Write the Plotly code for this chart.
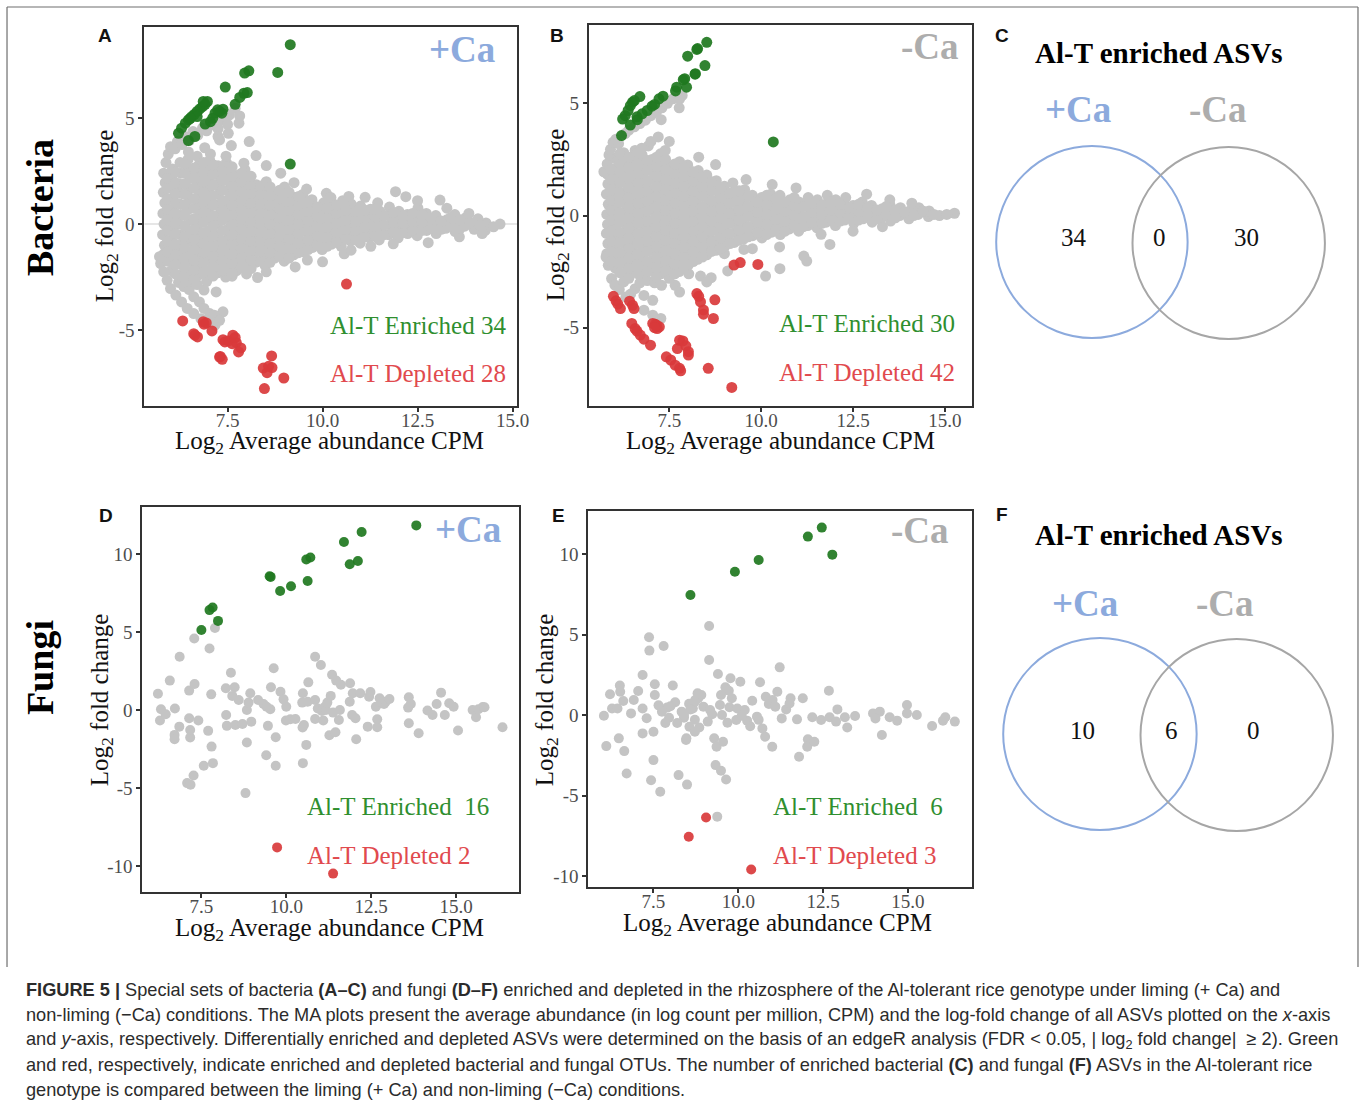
import plotly.graph_objects as go

W, H = 1360, 1107
FIG_W = 1375  # page is captured 15 px wider than the window and scaled back to 1360

# ------------------------------------------------------------------ data
# Panel A  (bacteria, +Ca)
A_GREEN = [(9.15,8.46),(8.82,7.15),(8.06,7.23),(7.95,7.12),(7.44,6.46),(8.02,6.2),(7.93,6.17),(7.82,5.97),
           (7.70,5.65),(7.38,5.42),(7.29,5.31),(7.17,5.23),(7.35,5.23),(7.05,4.83),(6.91,4.72),(6.97,5.78),
           (6.91,5.65),(6.84,5.54),(6.77,5.43),(6.70,5.31),(6.63,5.18),(6.56,5.07),(6.47,4.91),(6.39,4.76),
           (6.29,4.52),(6.21,4.28),(6.47,3.94),(6.64,4.13),(9.15,2.83),(7.11,4.99),(7.24,5.39),(6.86,5.78),
           (6.70,5.07),(6.52,4.99)]
A_RED = [(10.63,-2.83),(6.32,-4.57),(6.61,-5.17),(6.71,-5.32),(6.86,-4.61),(6.94,-4.66),(7.09,-5.04),
         (7.38,-5.45),(7.52,-5.51),(7.64,-5.24),(7.73,-5.59),(7.85,-5.84),(7.79,-6.03),(7.29,-6.27),
         (7.36,-6.38),(8.66,-6.22),(8.44,-6.79),(8.67,-6.77),(8.54,-7.01),(8.98,-7.26),(8.47,-7.76),
         (7.62,-5.64),(6.88,-4.72),(6.64,-5.24),(7.43,-5.56),(7.70,-5.35),(7.31,-6.24),(8.58,-6.71)]
A_GRAY = [
    (5.80,-1.45),(5.84,-1.0),(5.79,-0.5),(5.83,0.0),(5.80,0.5),(5.85,1.0),(5.81,1.5),(5.86,1.95),
    (6.02,-2.2),(6.0,-1.7),(6.04,-1.25),(6.01,-0.75),(6.03,-0.25),(5.99,0.25),(6.04,0.7),(6.02,1.2),(6.0,1.7),(6.03,2.2),(6.05,2.6),
    (6.24,-2.4),(6.27,-1.9),(6.23,-1.45),(6.26,-1.0),(6.25,-0.5),(6.22,0.0),(6.27,0.45),(6.24,0.95),(6.26,1.45),(6.23,1.9),(6.27,2.4),(6.25,2.9),
    (6.49,-2.25),(6.52,-1.75),(6.48,-1.3),(6.51,-0.8),(6.5,-0.3),(6.53,0.2),(6.48,0.7),(6.51,1.2),(6.5,1.65),(6.52,2.15),(6.49,2.6),(6.46,3.05),
    (6.74,-2.4),(6.77,-1.95),(6.73,-1.5),(6.76,-1.0),(6.75,-0.55),(6.72,-0.05),(6.77,0.45),(6.74,0.9),(6.76,1.4),(6.73,1.85),(6.77,2.35),(6.75,2.8),
    (6.99,-2.2),(7.02,-1.7),(6.98,-1.25),(7.01,-0.75),(7.0,-0.3),(7.03,0.2),(6.98,0.65),(7.01,1.15),(7.0,1.6),(7.02,2.1),(6.99,2.6),(7.03,3.0),
    (7.24,-2.3),(7.27,-1.85),(7.23,-1.4),(7.26,-0.95),(7.25,-0.5),(7.22,0.0),(7.27,0.45),(7.24,0.9),(7.26,1.4),(7.23,1.85),(7.27,2.3),(7.25,2.75),
    (7.49,-2.05),(7.52,-1.6),(7.48,-1.15),(7.51,-0.7),(7.5,-0.25),(7.53,0.25),(7.48,0.7),(7.51,1.15),(7.5,1.6),(7.52,2.05),(7.49,2.5),(7.47,2.9),
    (7.74,-2.2),(7.77,-1.75),(7.73,-1.3),(7.76,-0.85),(7.75,-0.4),(7.72,0.05),(7.77,0.5),(7.74,0.95),(7.76,1.4),(7.73,1.85),(7.77,2.3),
    (7.99,-1.95),(8.02,-1.5),(7.98,-1.05),(8.01,-0.6),(8.0,-0.15),(8.03,0.3),(7.98,0.75),(8.01,1.2),(8.0,1.65),(8.02,2.05),(7.96,2.55),
    (8.24,-1.8),(8.27,-1.3),(8.23,-0.85),(8.26,-0.4),(8.25,0.05),(8.22,0.5),(8.27,0.95),(8.24,1.4),(8.26,1.85),
    (8.49,-1.95),(8.52,-1.5),(8.48,-1.05),(8.51,-0.6),(8.5,-0.15),(8.53,0.3),(8.48,0.75),(8.51,1.2),(8.5,1.6),(8.52,2.0),
    (8.74,-1.6),(8.77,-1.15),(8.73,-0.7),(8.76,-0.25),(8.75,0.2),(8.72,0.65),(8.77,1.1),(8.74,1.5),
    (8.99,-1.75),(9.02,-1.3),(8.98,-0.85),(9.01,-0.4),(9.0,0.05),(9.03,0.5),(8.98,0.95),(9.01,1.4),(9.0,1.75),
    (9.24,-1.45),(9.27,-1.0),(9.23,-0.55),(9.26,-0.1),(9.25,0.35),(9.22,0.8),(9.27,1.25),
    (9.49,-1.3),(9.52,-0.85),(9.48,-0.35),(9.51,0.1),(9.5,0.55),(9.53,1.0),(9.48,1.4),
    (9.74,-1.1),(9.77,-0.6),(9.73,-0.15),(9.76,0.3),(9.75,0.75),(9.72,1.15),
    (9.99,-1.2),(10.02,-0.8),(9.98,-0.35),(10.01,0.1),(10.0,0.55),(10.03,1.0),
    (10.24,-0.95),(10.27,-0.5),(10.23,-0.05),(10.26,0.4),(10.25,0.85),
    (10.49,-1.05),(10.52,-0.6),(10.48,-0.15),(10.51,0.3),(10.5,0.75),(10.53,1.1),
    (10.74,-0.8),(10.77,-0.35),(10.73,0.1),(10.76,0.55),(10.75,0.95),
    (10.99,-0.9),(11.02,-0.45),(10.98,0.0),(11.01,0.45),(11.0,0.85),
    (11.24,-0.65),(11.27,-0.2),(11.23,0.25),(11.26,0.7),
    (11.49,-0.75),(11.52,-0.3),(11.48,0.15),(11.51,0.6),
    (11.74,-0.5),(11.77,-0.05),(11.73,0.4),(11.76,0.8),
    (11.99,-0.65),(12.02,-0.2),(11.98,0.25),(12.01,0.6),
    (12.24,-0.45),(12.27,0.0),(12.23,0.45),
    (12.49,-0.55),(12.52,-0.1),(12.48,0.35),(12.51,0.75),
    (12.74,-0.3),(12.77,0.15),(12.73,0.5),
    (12.99,-0.45),(13.02,0.0),(12.98,0.4),
    (13.24,-0.2),(13.27,0.2),
    (13.49,-0.35),(13.52,0.05),(13.48,0.45),
    (13.74,-0.1),(13.77,0.3),
    (13.99,-0.25),(14.02,0.1),
    (14.3,0.05),(14.28,-0.3),(14.5,-0.13),(14.67,0.0),
    # upper arc and outliers
    (5.82,2.4),(5.88,2.9),(5.94,3.3),(6.0,3.65),(6.12,3.55),(6.18,3.89),(6.3,3.75),(6.38,4.13),(6.5,3.95),
    (6.59,4.36),(6.72,4.2),(6.84,4.52),(6.95,4.4),(7.11,4.68),(7.25,4.5),(7.35,4.91),(7.55,5.15),(7.7,5.46),
    (7.5,4.7),(7.82,5.1),(8.52,2.76),(8.25,3.23),(8.07,3.89),(7.8,4.76),(7.25,4.13),(7.29,3.97),(7.52,4.28),
    (7.93,2.87),(7.46,3.2),(7.05,3.3),(6.47,3.4),(6.7,3.2),(6.9,3.6),(7.6,3.7),(8.9,2.4),(9.25,1.95),
    (9.58,1.65),(10.1,1.45),(10.22,1.25),(10.69,1.3),(11.12,1.26),(11.45,1.0),(11.92,1.53),(12.19,1.29),
    (12.5,1.1),(13.09,1.13),(13.27,0.75),(13.85,0.5),(14.09,0.25),
    # lower arc and outliers
    (5.71,-1.54),(5.74,-1.86),(5.82,-2.25),(5.91,-2.65),(6.0,-3.04),(6.14,-3.35),(6.29,-3.67),(6.44,-3.98),
    (6.61,-4.22),(6.8,-4.46),(7.0,-4.61),(7.17,-4.77),(7.38,-4.14),(6.21,-2.75),(6.35,-2.95),(6.49,-3.09),
    (6.61,-3.43),(6.76,-3.67),(6.88,-3.98),(7.03,-4.22),(7.15,-4.3),(7.29,-4.54),(6.59,-2.7),(6.7,-2.85),
    (6.88,-3.11),(6.4,-2.7),(6.95,-2.7),(7.2,-3.2),(7.45,-2.5),(7.62,-2.46),(8.29,-2.52),(8.52,-2.25),
    (9.28,-2.02),(10.0,-1.78),(10.57,-1.4),(10.75,-1.23),(11.27,-1.05),(12.78,-0.88),(11.86,-0.93),
    (9.6,-1.7),(8.0,-2.35),(13.6,-0.6),(14.2,-0.45)]
# further gray ASVs of panel A filling the dense core, listed as (x, [y values])
A_GRAY_CORE = [
    (5.92, [-1.75,-1.3,-0.8,-0.3,0.2,0.7,1.2,1.7,2.15]),
    (6.13, [-2.35,-1.9,-1.45,-0.95,-0.45,0.05,0.5,1.0,1.45,1.95,2.45]),
    (6.37, [-2.5,-2.05,-1.6,-1.1,-0.6,-0.1,0.4,0.9,1.4,1.9,2.4,2.85]),
    (6.62, [-2.6,-2.15,-1.7,-1.2,-0.7,-0.25,0.25,0.75,1.2,1.7,2.2,2.65]),
    (6.87, [-2.3,-1.8,-1.35,-0.9,-0.4,0.1,0.55,1.05,1.5,2.0,2.45,2.9]),
    (7.12, [-2.45,-2.0,-1.5,-1.05,-0.55,-0.1,0.4,0.9,1.35,1.85,2.35,2.8]),
    (7.37, [-2.2,-1.7,-1.25,-0.8,-0.3,0.2,0.65,1.1,1.6,2.05,2.5]),
    (7.62, [-2.3,-1.85,-1.4,-0.95,-0.5,-0.05,0.45,0.9,1.35,1.8,2.25,2.7]),
    (7.87, [-2.05,-1.6,-1.15,-0.7,-0.25,0.2,0.65,1.1,1.55,2.0,2.4]),
    (8.12, [-2.1,-1.7,-1.25,-0.8,-0.35,0.1,0.55,1.0,1.45,1.9,2.25]),
    (8.37, [-1.75,-1.3,-0.85,-0.4,0.05,0.5,0.95,1.4,1.8]),
    (8.62, [-1.8,-1.35,-0.9,-0.45,0.0,0.45,0.9,1.35,1.75]),
    (8.87, [-1.5,-1.05,-0.6,-0.15,0.3,0.75,1.2,1.6]),
    (9.12, [-1.6,-1.15,-0.7,-0.25,0.2,0.65,1.1,1.5]),
    (9.37, [-1.35,-0.9,-0.45,0.0,0.45,0.9,1.3]),
    (9.62, [-1.2,-0.75,-0.3,0.15,0.6,1.05]),
    (9.87, [-1.0,-0.55,-0.1,0.35,0.8]),
    (10.12, [-1.05,-0.6,-0.15,0.3,0.75]),
    (10.37, [-0.85,-0.4,0.05,0.5,0.9]),
    (10.62, [-0.7,-0.25,0.2,0.65]),
    (10.87, [-0.75,-0.3,0.15,0.6]),
    (11.12, [-0.6,-0.15,0.3,0.65]),
    (11.37, [-0.55,-0.1,0.35,0.7]),
    (11.62, [-0.5,-0.05,0.4]),
    (11.87, [-0.35,0.1,0.55]),
    (12.12, [-0.4,0.05,0.4]),
    (12.37, [-0.3,0.15,0.5]),
    (12.62, [-0.3,0.1,0.45]),
    (12.87, [-0.2,0.25]),
    (13.12, [-0.25,0.15]),
    (13.37, [-0.1,0.3]),
    (13.62, [-0.2,0.2]),
    (13.87, [0.05]),
    (14.15, [-0.05]),
]

# Panel B  (bacteria, -Ca)
B_GREEN = [(8.52,7.72),(8.27,7.44),(8.0,7.1),(8.47,6.68),(8.21,6.32),(7.92,6.1),(7.97,5.72),(7.7,5.72),
           (7.67,5.55),(7.88,6.05),(7.33,5.32),(7.22,5.2),(7.03,4.87),(6.9,4.68),(6.76,4.53),(6.7,5.3),
           (6.5,5.05),(6.44,4.9),(6.38,4.68),(6.3,4.45),(6.23,4.3),(6.44,4.03),(6.63,4.27),(6.2,3.56),
           (10.33,3.28),(8.2,6.3),(6.55,5.12),(6.62,4.4),(7.1,4.95),(8.25,7.4)]
B_RED = [(5.98,-3.6),(6.05,-3.8),(6.1,-3.95),(6.17,-4.15),(6.42,-3.82),(6.5,-4.0),(6.54,-4.15),(6.48,-4.81),
         (6.57,-5.04),(6.71,-5.33),(6.81,-5.51),(6.99,-5.78),(7.05,-4.81),(7.12,-4.85),(7.15,-4.89),(7.23,-4.96),
         (7.17,-5.04),(7.1,-5.0),(7.42,-6.3),(7.54,-6.44),(7.66,-6.67),(7.78,-6.81),(7.72,-5.93),(7.78,-5.56),
         (7.87,-5.59),(7.95,-5.81),(8.02,-6.07),(8.02,-6.22),(7.81,-6.92),(8.25,-3.48),(8.35,-3.85),(8.74,-3.76),
         (8.43,-4.21),(8.43,-4.4),(8.7,-4.59),(8.56,-6.81),(9.2,-7.66),(9.26,-2.21),(9.43,-2.1),(9.91,-2.18),
         (8.3,-3.6),(6.62,-5.15)]
B_GRAY = [
    (5.80,-1.7),(5.83,-1.25),(5.79,-0.8),(5.82,-0.4),(5.8,0.05),(5.84,0.5),(5.79,0.95),(5.83,1.4),(5.81,1.85),
    (6.03,-2.35),(6.05,-1.9),(6.01,-1.45),(6.04,-1.0),(6.02,-0.55),(6.06,-0.1),(6.01,0.3),(6.04,0.75),(6.02,1.2),(6.05,1.65),(6.01,2.1),(6.04,2.55),
    (6.27,-2.6),(6.29,-2.15),(6.25,-1.7),(6.28,-1.25),(6.26,-0.8),(6.3,-0.35),(6.25,0.1),(6.28,0.55),(6.27,1.0),(6.29,1.45),(6.25,1.9),(6.28,2.35),(6.26,2.8),
    (6.52,-2.5),(6.54,-2.05),(6.5,-1.6),(6.53,-1.15),(6.51,-0.7),(6.55,-0.25),(6.5,0.2),(6.53,0.65),(6.52,1.1),(6.54,1.55),(6.5,2.0),(6.53,2.45),
    (6.77,-2.7),(6.79,-2.25),(6.75,-1.8),(6.78,-1.35),(6.76,-0.9),(6.8,-0.45),(6.75,0.0),(6.78,0.45),(6.77,0.9),(6.79,1.35),(6.75,1.8),(6.78,2.25),(6.76,2.7),
    (7.02,-2.45),(7.04,-2.0),(7.0,-1.55),(7.03,-1.1),(7.01,-0.65),(7.05,-0.2),(7.0,0.25),(7.03,0.7),(7.02,1.15),(7.04,1.6),(7.0,2.05),(7.03,2.5),
    (7.27,-2.6),(7.29,-2.15),(7.25,-1.7),(7.28,-1.25),(7.26,-0.8),(7.3,-0.35),(7.25,0.1),(7.28,0.55),(7.27,1.0),(7.29,1.45),(7.25,1.9),(7.28,2.35),(7.26,2.75),
    (7.52,-2.3),(7.54,-1.85),(7.5,-1.4),(7.53,-0.95),(7.51,-0.5),(7.55,-0.05),(7.5,0.4),(7.53,0.85),(7.52,1.3),(7.54,1.75),(7.5,2.2),
    (7.77,-2.5),(7.79,-2.05),(7.75,-1.6),(7.78,-1.15),(7.76,-0.7),(7.8,-0.25),(7.75,0.2),(7.78,0.65),(7.77,1.1),(7.79,1.55),(7.75,2.0),(7.78,2.4),
    (8.02,-2.2),(8.04,-1.75),(8.0,-1.3),(8.03,-0.85),(8.01,-0.4),(8.05,0.05),(8.0,0.5),(8.03,0.95),(8.02,1.4),(8.04,1.85),(8.0,2.25),
    (8.27,-1.95),(8.29,-1.5),(8.25,-1.05),(8.28,-0.6),(8.26,-0.15),(8.3,0.3),(8.25,0.75),(8.28,1.2),(8.27,1.65),(8.29,2.0),
    (8.52,-1.75),(8.54,-1.3),(8.5,-0.85),(8.53,-0.4),(8.51,0.05),(8.55,0.5),(8.5,0.95),(8.53,1.4),(8.52,1.8),
    (8.77,-1.55),(8.79,-1.1),(8.75,-0.65),(8.78,-0.2),(8.76,0.25),(8.8,0.7),(8.75,1.15),(8.78,1.55),
    (9.02,-1.35),(9.04,-0.9),(9.0,-0.45),(9.03,0.0),(9.01,0.45),(9.05,0.9),(9.0,1.3),
    (9.27,-1.2),(9.29,-0.75),(9.25,-0.3),(9.28,0.15),(9.26,0.6),(9.3,1.05),
    (9.52,-1.05),(9.54,-0.6),(9.5,-0.15),(9.53,0.3),(9.51,0.75),(9.55,1.15),
    (9.77,-0.9),(9.79,-0.45),(9.75,0.0),(9.78,0.45),(9.76,0.9),
    (10.02,-1.0),(10.04,-0.55),(10.0,-0.1),(10.03,0.35),(10.01,0.8),
    (10.27,-0.75),(10.29,-0.3),(10.25,0.15),(10.28,0.6),(10.26,0.95),
    (10.52,-0.85),(10.54,-0.4),(10.5,0.05),(10.53,0.5),(10.51,0.9),
    (10.77,-0.6),(10.79,-0.15),(10.75,0.3),(10.78,0.7),
    (11.02,-0.7),(11.04,-0.25),(11.0,0.2),(11.03,0.6),
    (11.27,-0.45),(11.29,0.0),(11.25,0.45),(11.28,0.8),
    (11.52,-0.55),(11.54,-0.1),(11.5,0.35),(11.53,0.7),
    (11.77,-0.3),(11.79,0.1),(11.75,0.5),
    (12.02,-0.45),(12.04,-0.05),(12.0,0.35),(12.03,0.7),
    (12.27,-0.2),(12.29,0.2),(12.25,0.55),
    (12.52,-0.35),(12.54,0.05),(12.5,0.45),
    (12.77,-0.15),(12.79,0.25),(12.75,0.6),
    (13.02,-0.3),(13.04,0.1),(13.0,0.45),
    (13.27,-0.1),(13.29,0.3),
    (13.52,-0.25),(13.54,0.15),(13.5,0.5),
    (13.77,0.0),(13.79,0.35),
    (14.02,-0.15),(14.04,0.2),
    (14.27,0.05),(14.29,0.35),
    (14.55,-0.05),(14.57,0.2),(14.85,0.0),(15.26,0.1),
    # upper arc and outliers
    (5.72,1.95),(5.81,2.3),(5.86,2.7),(5.9,2.95),(5.97,3.26),(6.05,3.4),(6.12,3.2),(6.3,3.65),(6.4,3.8),
    (6.55,3.95),(6.7,4.1),(6.85,4.25),(7.0,4.45),(7.15,4.6),(7.3,4.8),(7.45,5.0),(7.6,5.2),(7.78,5.19),
    (7.85,5.35),(7.77,4.8),(7.28,4.27),(6.57,2.9),(6.75,3.0),(6.93,3.1),(7.39,2.9),(7.5,3.3),(7.2,3.5),
    (7.0,3.3),(8.76,2.27),(8.3,2.6),(9.23,1.45),(9.59,1.6),(10.3,1.38),(10.95,1.23),(12.87,0.95),
    (11.8,0.9),(13.5,0.7),(14.1,0.55),(12.3,0.8),
    # lower arc and outliers
    (5.78,-1.85),(5.84,-2.22),(5.93,-2.81),(6.02,-3.1),(6.14,-3.3),(6.32,-3.63),(6.26,-2.96),(6.57,-3.26),
    (6.81,-3.56),(7.05,-3.78),(7.29,-3.11),(7.66,-3.11),(7.78,-3.41),(6.81,-4.22),(7.05,-4.44),(7.27,-4.59),
    (6.9,-2.9),(7.1,-3.0),(7.5,-2.8),(6.7,-3.0),(6.45,-3.5),(11.63,-0.84),(11.87,-1.29),(11.24,-2.03),
    (11.16,-1.81),(10.51,-2.37),(10.12,-2.7),(9.76,-1.48),(9.53,-1.51),(9.0,-1.7),(9.09,-2.47),(8.64,-2.77),
    (8.35,-2.7),(8.52,-2.96),(8.03,-2.6),(10.5,-1.4),(12.5,-0.7),(13.3,-0.5)]
B_GRAY_CORE = [
    (5.92, [-2.05,-1.6,-1.15,-0.7,-0.2,0.25,0.7,1.15,1.6,2.05]),
    (6.15, [-2.55,-2.1,-1.65,-1.2,-0.75,-0.3,0.15,0.6,1.05,1.5,1.95,2.4,2.75]),
    (6.40, [-2.8,-2.35,-1.9,-1.45,-1.0,-0.55,-0.1,0.35,0.8,1.25,1.7,2.15,2.6]),
    (6.65, [-2.6,-2.15,-1.7,-1.25,-0.8,-0.35,0.1,0.55,1.0,1.45,1.9,2.35,2.8]),
    (6.90, [-2.5,-2.05,-1.6,-1.15,-0.7,-0.25,0.2,0.65,1.1,1.55,2.0,2.45]),
    (7.15, [-2.75,-2.3,-1.85,-1.4,-0.95,-0.5,-0.05,0.4,0.85,1.3,1.75,2.2,2.6]),
    (7.40, [-2.45,-2.0,-1.55,-1.1,-0.65,-0.2,0.25,0.7,1.15,1.6,2.05,2.5]),
    (7.65, [-2.6,-2.15,-1.7,-1.25,-0.8,-0.35,0.1,0.55,1.0,1.45,1.9,2.3]),
    (7.90, [-2.3,-1.85,-1.4,-0.95,-0.5,-0.05,0.4,0.85,1.3,1.75,2.15]),
    (8.15, [-2.05,-1.6,-1.15,-0.7,-0.25,0.2,0.65,1.1,1.55,1.95]),
    (8.40, [-1.85,-1.4,-0.95,-0.5,-0.05,0.4,0.85,1.3,1.7]),
    (8.65, [-1.6,-1.15,-0.7,-0.25,0.2,0.65,1.1,1.5]),
    (8.90, [-1.45,-1.0,-0.55,-0.1,0.35,0.8,1.2]),
    (9.15, [-1.25,-0.8,-0.35,0.1,0.55,1.0]),
    (9.40, [-1.1,-0.65,-0.2,0.25,0.7,1.1]),
    (9.65, [-0.95,-0.5,-0.05,0.4,0.85]),
    (9.90, [-0.75,-0.3,0.15,0.6]),
    (10.15, [-0.85,-0.4,0.05,0.5,0.9]),
    (10.40, [-0.6,-0.15,0.3,0.75]),
    (10.65, [-0.7,-0.25,0.2,0.6]),
    (10.90, [-0.45,0.0,0.45,0.8]),
    (11.15, [-0.5,-0.05,0.4]),
    (11.40, [-0.3,0.15,0.55]),
    (11.65, [-0.35,0.05,0.45]),
    (11.90, [-0.15,0.25,0.6]),
    (12.15, [-0.25,0.15,0.5]),
    (12.40, [-0.05,0.35]),
    (12.65, [-0.2,0.2,0.5]),
    (12.90, [0.0,0.35]),
    (13.15, [-0.15,0.25]),
    (13.40, [0.05,0.4]),
    (13.65, [-0.1,0.25]),
    (13.90, [0.15]),
    (14.15, [0.0]),
    (14.40, [0.2]),
    (14.70, [0.05]),
    (15.05, [0.05]),
]

# Panel D  (fungi, +Ca)
D_GREEN = [(13.83,11.83),(12.22,11.41),(11.7,10.77),(12.11,9.55),(11.87,9.34),(10.71,9.77),(10.59,9.64),
           (10.63,8.27),(10.14,7.93),(9.82,7.63),(9.54,8.53),(9.51,8.57),(7.83,6.57),(7.74,6.4),(7.99,5.71),(7.5,5.12)]
D_RED = [(9.73,-8.81),(11.38,-10.49)]
D_GRAY = [
    (6.22,1.04),(6.31,0.04),(6.28,-0.68),(6.45,-0.28),(6.57,1.88),(6.72,0.09),(6.71,-1.6),(6.71,-1.88),
    (6.85,-1.07),(6.86,3.41),(7.14,1.24),(7.17,-1.77),(7.14,-0.53),(7.17,-1.28),(7.29,4.58),(7.3,1.66),
    (7.41,-0.68),(7.08,-4.69),(7.18,-4.8),(7.27,-4.2),(7.57,-3.58),(7.7,-1.34),(7.74,3.94),(7.79,1.0),
    (7.84,-3.41),(7.8,-2.35),(7.9,5.25),(8.22,1.39),(8.23,-0.32),(8.25,-1.02),(8.37,2.39),(8.41,0.9),
    (8.48,1.45),(8.5,-0.96),(8.6,0.64),(8.71,-0.9),(8.8,-5.33),(8.84,-2.09),(8.84,0.0),(8.89,0.47),
    (8.94,1.07),(8.97,-0.75),(9.17,0.64),(9.33,0.38),(9.42,0.21),(9.46,-1.02),(9.41,-2.9),(9.53,0.04),
    (9.55,1.45),(9.63,2.67),(9.69,-1.75),(9.69,-3.58),(9.83,1.17),(9.92,0.68),(9.99,-0.68),(10.0,0.21),
    (10.12,-0.6),(10.27,-0.58),(10.47,0.47),(10.48,-1.13),(10.49,1.07),(10.52,-0.96),(10.59,-2.24),
    (10.49,-3.41),(10.63,0.53),(10.65,1.77),(10.85,3.41),(10.85,0.64),(10.85,-0.58),(10.93,0.09),
    (11.02,2.88),(11.05,-0.06),(11.09,-0.68),(11.14,0.21),(11.17,0.0),(11.21,0.47),(11.27,-1.62),
    (11.31,0.9),(11.35,2.26),(11.38,-0.17),(11.45,-1.43),(11.47,1.88),(11.55,-0.64),(11.61,1.62),
    (11.58,0.0),(11.87,0.53),(11.88,1.71),(11.94,-0.32),(11.96,1.07),(12.04,-0.53),(12.06,-1.88),
    (12.18,1.07),(12.4,-1.07),(12.44,0.85),(12.48,1.15),(12.64,0.21),(12.68,-1.11),(12.68,-0.6),
    (12.75,0.75),(12.81,0.43),(12.88,0.38),(12.93,0.53),(13.04,0.7),(13.61,0.81),(13.59,0.15),
    (13.61,-0.85),(13.67,0.38),(13.9,-1.49),(14.16,-0.04),(14.31,-0.32),(14.43,0.38),(14.56,1.11),
    (14.67,-0.32),(14.8,0.43),(14.93,0.21),(15.06,-1.32),(15.49,0.0),(15.59,-0.47),(15.66,0.04),
    (15.79,0.19),(15.84,0.17),(16.37,-1.11)]

# Panel E  (fungi, -Ca)
E_GREEN = [(8.59,7.45),(9.9,8.9),(10.6,9.63),(12.05,11.08),(12.46,11.64),(12.77,9.96)]
E_RED = [(8.54,-7.56),(9.05,-6.36),(10.38,-9.59)]
E_GRAY = [
    (6.04,-0.04),(6.11,-1.93),(6.22,1.29),(6.28,0.41),(6.44,0.41),(6.48,-1.45),(6.51,1.83),(6.52,1.45),
    (6.61,0.87),(6.64,-2.24),(6.71,-3.63),(6.84,0.1),(6.92,0.93),(7.05,1.49),(7.18,2.49),(7.18,0.41),
    (7.18,-1.14),(7.37,4.83),(7.38,4.0),(7.5,-1.04),(7.5,-2.8),(7.54,1.91),(7.54,1.24),(7.43,-4.05),
    (7.7,-4.77),(7.8,4.29),(7.9,0.46),(7.96,-0.17),(8.07,1.83),(8.14,0.79),(8.24,-3.73),(8.33,0.21),
    (8.4,-0.17),(8.47,-1.45),(8.49,-4.32),(8.56,-0.73),(8.66,0.41),(8.73,0.93),(8.8,1.35),(7.65,0.6),
    (7.75,0.2),(8.0,0.55),(8.2,-0.5),(7.85,-0.5),(8.55,0.7),(7.3,-0.2),
    (9.14,5.53),(9.14,3.42),(11.22,2.96),(9.4,2.55),(9.77,2.28),(10.06,2.07),(10.64,2.03),(9.62,1.72),
    (9.72,1.51),(9.49,1.24),(9.81,1.04),(11.15,1.45),(11.54,1.04),(11.9,1.04),(12.67,1.51),(10.81,1.14),
    (11.01,0.93),(10.41,0.89),(8.91,1.24),(8.82,1.04),(8.72,0.83),(8.59,0.35),(8.97,0.52),(9.17,0.31),
    (9.46,0.62),(9.74,0.48),(9.97,0.41),(10.19,0.31),(10.9,0.68),(11.09,0.52),(11.41,0.35),(11.51,0.72),
    (12.92,0.35),(13.97,0.1),(14.17,0.21),(14.97,0.62),(15.26,0.0),(14.46,-0.14),(14.68,-0.35),
    (10.26,-0.35),(9.94,-0.31),(9.68,-0.48),(9.1,-0.41),(8.85,-0.77),(8.72,-1.04),(8.46,-1.55),
    (9.29,-1.45),(9.36,-1.97),(9.55,-1.66),(10.71,-0.83),(10.79,-1.35),(11.0,-1.97),(12.05,-1.51),
    (12.03,-1.97),(12.24,-1.66),(11.79,-2.59),(9.33,-3.11),(9.49,-3.46),(9.64,-4.0),(14.23,-1.24),
    (13.21,-0.77),(11.73,-0.27),(11.28,-0.21),(12.18,-0.14),(12.44,-0.31),(12.69,-0.14),(13.14,-0.14),
    (13.44,-0.06),(15.71,-0.68),(16.03,-0.35),(16.38,-0.41),(16.1,-0.14),(14.97,0.1),(14.04,-0.21),
    (12.88,-0.41),(9.38,-6.31),(8.4,0.0),(8.72,-0.3),(9.23,0.05),(9.52,0.0),(10.1,-0.05),(10.55,-0.1),
    (10.35,-0.7),(10.6,-0.3)]

X_TICKS = [7.5, 10.0, 12.5, 15.0]
X_TICKTEXT = ["7.5", "10.0", "12.5", "15.0"]
Y_TICKS_BAC = [-5, 0, 5]
Y_TICKS_FUN = [-10, -5, 0, 5, 10]
ENRICHED = {"A": "Al-T Enriched 34", "B": "Al-T Enriched 30", "D": "Al-T Enriched\u00a0 16", "E": "Al-T Enriched\u00a0 6"}
DEPLETED = {"A": "Al-T Depleted 28", "B": "Al-T Depleted 42", "D": "Al-T Depleted 2", "E": "Al-T Depleted 3"}
VENN_C = ["34", "0", "30"]
VENN_F = ["10", "6", "0"]

# ------------------------------------------------------------------ style
SERIF = "Liberation Serif, Times New Roman, serif"
SANS = "Liberation Sans, Arial, sans-serif"
C_GRAY_PT = "#C4C4C4"
C_GREEN_PT = "#1F781F"
C_RED_PT = "#D9393B"
C_GREEN_TX = "#2F8F2F"
C_RED_TX = "#E14A4E"
C_BLUE = "#8CAADD"
C_GRAYTX = "#ADADAD"
AXIS_C = "#333333"


def pxx(x):
    return x / W


def pyy(y):
    return 1 - y / H


def expand(cols):
    return [(x, y) for x, ys in cols for y in ys]


panels = [
    dict(n="", gray=A_GRAY + expand(A_GRAY_CORE), green=A_GREEN, red=A_RED, xd=(144, 516), yd=(27.3, 406),
         xr=(5.31, 15.12), yr=(-8.58, 9.28), yt=Y_TICKS_BAC, ms=11),
    dict(n="2", gray=B_GRAY + expand(B_GRAY_CORE), green=B_GREEN, red=B_RED, xd=(587.5, 970), yd=(25, 406),
         xr=(5.31, 15.74), yr=(-8.49, 8.49), yt=Y_TICKS_BAC, ms=11),
    dict(n="3", gray=D_GRAY, green=D_GREEN, red=D_RED, xd=(142, 518), yd=(507, 892),
         xr=(5.76, 16.86), yr=(-11.67, 13.01), yt=Y_TICKS_FUN, ms=10),
    dict(n="4", gray=E_GRAY, green=E_GREEN, red=E_RED, xd=(587, 970), yd=(511, 887),
         xr=(5.58, 16.89), yr=(-10.68, 12.67), yt=Y_TICKS_FUN, ms=10),
]

fig = go.Figure()
layout_axes = {}
for p in panels:
    n = p["n"]
    for pts, col, op in ((p["gray"], C_GRAY_PT, 1.0), (p["green"], C_GREEN_PT, 0.92), (p["red"], C_RED_PT, 0.92)):
        fig.add_trace(go.Scatter(
            x=[a for a, b in pts], y=[b for a, b in pts], mode="markers",
            marker=dict(color=col, size=p["ms"], opacity=op, line=dict(width=0)),
            xaxis="x" + n, yaxis="y" + n, showlegend=False, hoverinfo="skip"))
    common = dict(showline=True, mirror=True, linecolor=AXIS_C, linewidth=2, ticks="outside",
                  ticklen=4, tickwidth=1.5, tickcolor=AXIS_C, showgrid=False, zeroline=False,
                  tickfont=dict(family=SERIF, size=19, color="#4D4D4D"))
    layout_axes["xaxis" + n] = dict(domain=[pxx(p["xd"][0]), pxx(p["xd"][1])], range=list(p["xr"]),
                                    anchor="y" + n, tickvals=X_TICKS, ticktext=X_TICKTEXT,
                                    ticklabelstandoff=-8, **common)
    layout_axes["yaxis" + n] = dict(domain=[pyy(p["yd"][1]), pyy(p["yd"][0])], range=list(p["yr"]),
                                    anchor="x" + n, tickvals=p["yt"], ticktext=[str(v) for v in p["yt"]], **common)

ann = []


def text(x, y, s, size, color="#000000", family=SERIF, xanchor="center", angle=0):
    ann.append(dict(x=pxx(x), y=pyy(y), xref="paper", yref="paper", text=s, showarrow=False,
                    xanchor=xanchor, yanchor="middle", textangle=angle,
                    font=dict(family=family, size=size, color=color)))


# panel letters
for s, x, y in (("A", 105, 36), ("B", 556, 36), ("C", 1000, 36), ("D", 106, 515), ("E", 557, 515), ("F", 1000, 514)):
    text(x, y, "<b>%s</b>" % s, 19, "#111111", SANS)

# row labels
text(40, 208, "<b>Bacteria</b>", 38, "#000000", SERIF, angle=-90)
text(40, 668, "<b>Fungi</b>", 38, "#000000", SERIF, angle=-90)

# axis titles
YT = "Log<sub>2</sub> fold change"
XT = "Log<sub>2</sub> Average abundance CPM"
for x, y in ((107, 216), (556, 215), (101, 700), (545, 700)):
    text(x, y, YT, 25, "#111111", angle=-90)
for x, y in ((329, 442), (779, 442), (329, 929), (776, 924)):
    text(x, y, XT, 25, "#111111")

# in-panel labels
text(496, 50, "<b>+Ca</b>", 37, C_BLUE, xanchor="right")
text(959, 47, "<b>-Ca</b>", 37, C_GRAYTX, xanchor="right")
text(502, 529, "<b>+Ca</b>", 37, C_BLUE, xanchor="right")
text(949, 530, "<b>-Ca</b>", 37, C_GRAYTX, xanchor="right")
for key, x0, ye, yd in (("A", 327, 325, 373), ("B", 775, 323, 372), ("D", 304, 806, 855), ("E", 769, 806, 855)):
    text(x0, ye, ENRICHED[key], 25, C_GREEN_TX, xanchor="left")
    text(x0, yd, DEPLETED[key], 25, C_RED_TX, xanchor="left")

# Venn diagrams
shapes = []
for cy, nums, (bx0, by0, bx1, by1), (gx0, gy0, gx1, gy1), lx, ly, numx in (
        (0, VENN_C, (994, 146, 1185, 338), (1130, 147, 1322, 339), (1076, 1215), 110, (1072, 1157, 1244)),
        (1, VENN_F, (1001, 638, 1194, 830), (1138, 639, 1330, 831), (1083, 1222), 603, (1080, 1169, 1251))):
    tyy = 53 if cy == 0 else 535
    text(1156, tyy, "<b>Al-T enriched ASVs</b>", 29, "#000000")
    text(lx[0], ly, "<b>+Ca</b>", 37, C_BLUE)
    text(lx[1], ly, "<b>-Ca</b>", 37, C_GRAYTX)
    shapes.append(dict(type="circle", xref="paper", yref="paper", x0=pxx(bx0), x1=pxx(bx1),
                       y0=pyy(by1), y1=pyy(by0), line=dict(color=C_BLUE, width=2)))
    shapes.append(dict(type="circle", xref="paper", yref="paper", x0=pxx(gx0), x1=pxx(gx1),
                       y0=pyy(gy1), y1=pyy(gy0), line=dict(color="#A6A6A6", width=2)))
    ny = (by0 + by1) / 2 - 4
    for s, x in zip(nums, numx):
        text(x, ny, s, 25, "#111111")

# zero reference line in panel A
shapes.append(dict(type="line", xref="x", yref="y", x0=5.31, x1=15.12, y0=0, y1=0,
                   line=dict(color="#E6E6E6", width=2), layer="below"))

# outer frame (top, left, right)
for x0, y0, x1, y1 in ((7, 7, 1355, 7), (7, 7, 7, 967), (1355, 7, 1355, 967)):
    shapes.append(dict(type="line", xref="paper", yref="paper", x0=pxx(x0), y0=pyy(y0), x1=pxx(x1), y1=pyy(y1),
                       line=dict(color="#6E6E6E", width=1.2)))

# caption
CAPTION = [
    "<b>FIGURE 5 |</b> Special sets of bacteria <b>(A\u2013C)</b> and fungi <b>(D\u2013F)</b> enriched and depleted in the rhizosphere of the Al-tolerant rice genotype under liming (+ Ca) and",
    "non-liming (\u2212Ca) conditions. The MA plots present the average abundance (in log count per million, CPM) and the log-fold change of all ASVs plotted on the <i>x</i>-axis",
    "and <i>y</i>-axis, respectively. Differentially enriched and depleted ASVs were determined on the basis of an edgeR analysis (FDR &lt; 0.05, | log<sub>2</sub> fold change|\u00a0 \u2265 2). Green",
    "and red, respectively, indicate enriched and depleted bacterial and fungal OTUs. The number of enriched bacterial <b>(C)</b> and fungal <b>(F)</b> ASVs in the Al-tolerant rice",
    "genotype is compared between the liming (+ Ca) and non-liming (\u2212Ca) conditions.",
]
for i, line in enumerate(CAPTION):
    text(24, 990 + 25 * i, line, 18.2, "#2B2B2B", SANS, xanchor="left")

fig.update_layout(width=FIG_W, height=H, autosize=False, margin=dict(l=0, r=0, t=0, b=0), paper_bgcolor="white",
                  plot_bgcolor="white", annotations=ann, shapes=shapes, showlegend=False, **layout_axes)

POST = "document.body.style.margin='0px';"
fig.write_html("out.html", config={"displayModeBar": False, "responsive": False}, post_script=POST)
